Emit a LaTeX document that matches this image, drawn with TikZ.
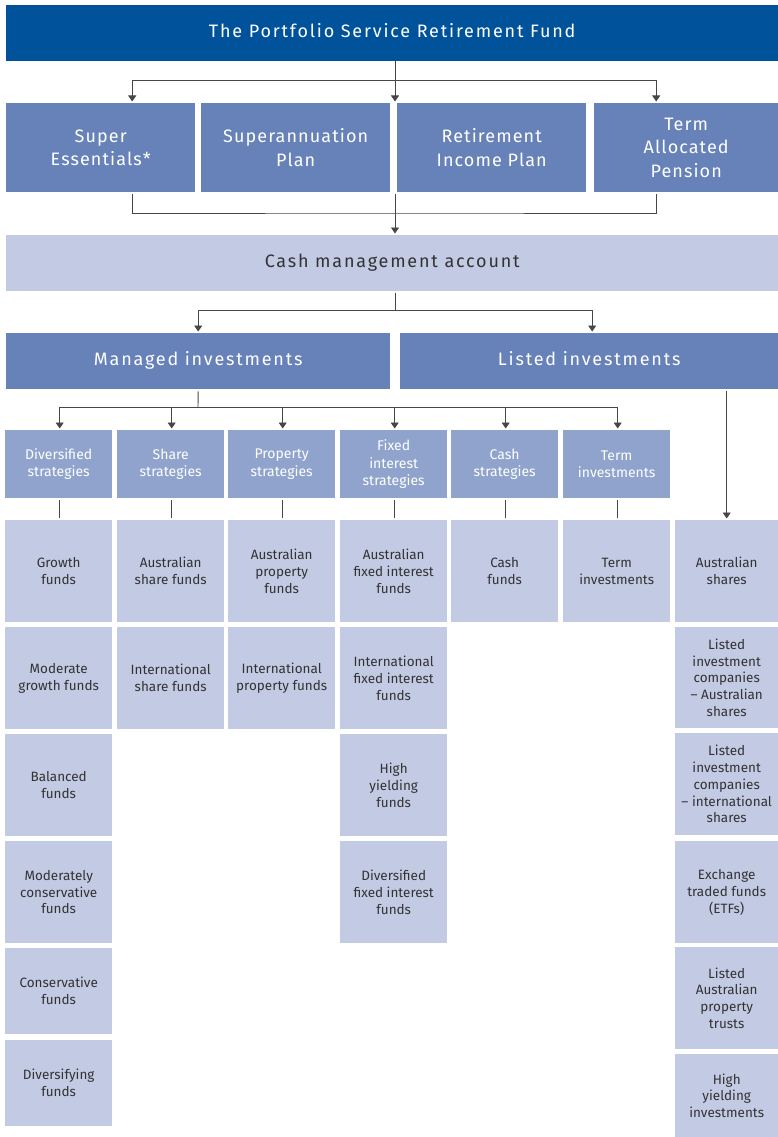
\documentclass[tikz,border=0pt]{standalone}
\usepackage{fontspec}
\setmainfont{Fira Sans}
\newfontfamily\widefont{Fira Sans}[LetterSpace=10]
\newfontfamily\planfont{Fira Sans}[LetterSpace=6]
\usetikzlibrary{arrows.meta}
\definecolor{navy}{RGB}{0,82,155}
\definecolor{midblue}{RGB}{102,130,184}
\definecolor{strblue}{RGB}{143,163,205}
\definecolor{pale}{RGB}{195,202,227}
\definecolor{ink}{RGB}{51,51,51}
\definecolor{wirec}{RGB}{70,70,70}
\begin{document}
\begin{tikzpicture}[x=1pt,y=-1pt,
  box/.style={draw=none, inner sep=0pt, align=center, anchor=north west},
  onel/.style={text height=13pt, text depth=4pt},
  titlebox/.style={box, onel, fill=navy, text=white, font=\widefont\fontsize{18}{22}\selectfont},
  planbox/.style={box, fill=midblue, text=white, font=\planfont\fontsize{18}{23.5}\selectfont, minimum height=89pt},
  cashbox/.style={box, onel, fill=pale, text=ink, font=\widefont\fontsize{18}{22}\selectfont},
  invbox/.style={box, onel, fill=midblue, text=white, font=\widefont\fontsize{18}{22}\selectfont, minimum height=56pt},
  stratbox/.style={box, fill=strblue, text=white, font=\fontsize{14}{17.5}\selectfont, minimum width=107pt, minimum height=68pt},
  fundbox/.style={box, fill=pale, text=ink, font=\fontsize{13.5}{16.8}\selectfont, minimum width=107pt, minimum height=102pt},
  lastbox/.style={fundbox, minimum width=103pt},
  wire/.style={draw=wirec, line width=0.9pt},
  arr/.style={wire, -{Triangle[width=8pt,length=6pt]}, shorten >=1.5pt},
  stub/.style={wire, shorten <=1.5pt, shorten >=2pt}
]
\useasboundingbox (0,0) rectangle (778,1137);

% top
\node[titlebox, minimum width=772pt, minimum height=56pt] (top) at (6,5) {The Portfolio Service Retirement Fund};

% plans
\node[planbox, minimum width=189pt] (se) at (6,103) {Super\\Essentials*};
\node[planbox, minimum width=189pt] (sp) at (201,103) {Superannuation\\Plan};
\node[planbox, minimum width=189pt] (rip) at (397,103) {Retirement\\Income Plan};
\node[planbox, minimum width=184pt] (tap) at (594,103) {Term\\Allocated\\Pension};

% cash
\node[cashbox, minimum width=772pt, minimum height=56pt] (cash) at (6,235) {Cash management account};

% investments
\node[invbox, minimum width=384pt] (managed) at (6,333) {Managed investments};
\node[invbox, minimum width=378pt] (listed) at (400,333) {Listed investments};

% strategies
\node[stratbox] (s1) at (5,430) {Diversified\\strategies};
\node[stratbox] (s2) at (117,430) {Share\\strategies};
\node[stratbox] (s3) at (228,430) {Property\\strategies};
\node[stratbox] (s4) at (340,430) {Fixed\\interest\\strategies};
\node[stratbox] (s5) at (451,430) {Cash\\strategies};
\node[stratbox] (s6) at (563,430) {Term\\investments};

% column 1
\node[fundbox] (f11) at (5,520) {Growth\\funds};
\node[fundbox] (f12) at (5,627) {Moderate\\growth funds};
\node[fundbox] (f13) at (5,734) {Balanced\\funds};
\node[fundbox] (f14) at (5,841) {Moderately\\conservative\\funds};
\node[fundbox, minimum height=86pt] (f15) at (5,948) {Conservative\\funds};
\node[fundbox, minimum height=86pt] (f16) at (5,1040) {Diversifying\\funds};

% column 2
\node[fundbox] (f21) at (117,520) {Australian\\share funds};
\node[fundbox] (f22) at (117,627) {International\\share funds};

% column 3
\node[fundbox] (f31) at (228,520) {Australian\\property\\funds};
\node[fundbox] (f32) at (228,627) {International\\property funds};

% column 4
\node[fundbox] (f41) at (340,520) {Australian\\fixed interest\\funds};
\node[fundbox] (f42) at (340,627) {International\\fixed interest\\funds};
\node[fundbox] (f43) at (340,734) {High\\yielding\\funds};
\node[fundbox] (f44) at (340,841) {Diversified\\fixed interest\\funds};

% column 5, 6
\node[fundbox] (f51) at (451,520) {Cash\\funds};
\node[fundbox] (f61) at (563,520) {Term\\investments};

% column 7
\node[lastbox] (f71) at (675,520) {Australian\\shares};
\node[lastbox, minimum height=101pt] (f72) at (675,627) {Listed\\investment\\companies\\-- Australian\\shares};
\node[lastbox] (f73) at (675,733) {Listed\\investment\\companies\\-- international\\shares};
\node[lastbox] (f74) at (675,841) {Exchange\\traded funds\\(ETFs)};
\node[lastbox] (f75) at (675,947) {Listed\\Australian\\property\\trusts};
\node[lastbox, minimum height=83pt] (f76) at (675,1054) {High\\yielding\\investments};

% connectors: top to plans
\coordinate (t1) at (395,80);
\draw[wire] (top.south -| t1) -- (t1);
\draw[arr] (t1) -- (t1 |- sp.north);
\draw[arr] (t1) -| ([xshift=31.5pt]se.north);
\draw[arr] (t1) -| ([xshift=-30pt]tap.north);

% plans to cash
\coordinate (t2) at (395,213);
\draw[wire] ([xshift=31.5pt,yshift=-1.5pt]se.south) |- (t2) -| ([xshift=-30pt,yshift=-1.5pt]tap.south);
\draw[arr] ([yshift=-1.5pt]t2 |- sp.south) -- (t2 |- cash.north);

% cash to investments
\coordinate (t3) at (395,310);
\draw[wire] ([yshift=-1.5pt]cash.south -| t3) -- (t3);
\draw[arr] (t3) -| (managed.north);
\draw[arr] (t3) -| ([xshift=3pt]listed.north);

% managed to strategies
\coordinate (t4) at (198,407);
\draw[wire] ([yshift=-2pt]managed.south) -- (t4);
\foreach \s in {s1,s2,s3,s4,s5,s6}{\draw[arr] (t4) -| ([xshift=1pt]\s.north);}

% listed to shares
\draw[arr] ([yshift=-2pt]listed.south -| f71.north) -- (f71.north);

% strategies to funds
\draw[stub] ([xshift=1pt]s1.south) -- ([xshift=1pt]f11.north);
\draw[stub] ([xshift=1pt]s2.south) -- ([xshift=1pt]f21.north);
\draw[stub] ([xshift=1pt]s3.south) -- ([xshift=1pt]f31.north);
\draw[stub] ([xshift=1pt]s4.south) -- ([xshift=1pt]f41.north);
\draw[stub] ([xshift=1pt]s5.south) -- ([xshift=1pt]f51.north);
\draw[stub] ([xshift=1pt]s6.south) -- ([xshift=1pt]f61.north);
\end{tikzpicture}
\end{document}
